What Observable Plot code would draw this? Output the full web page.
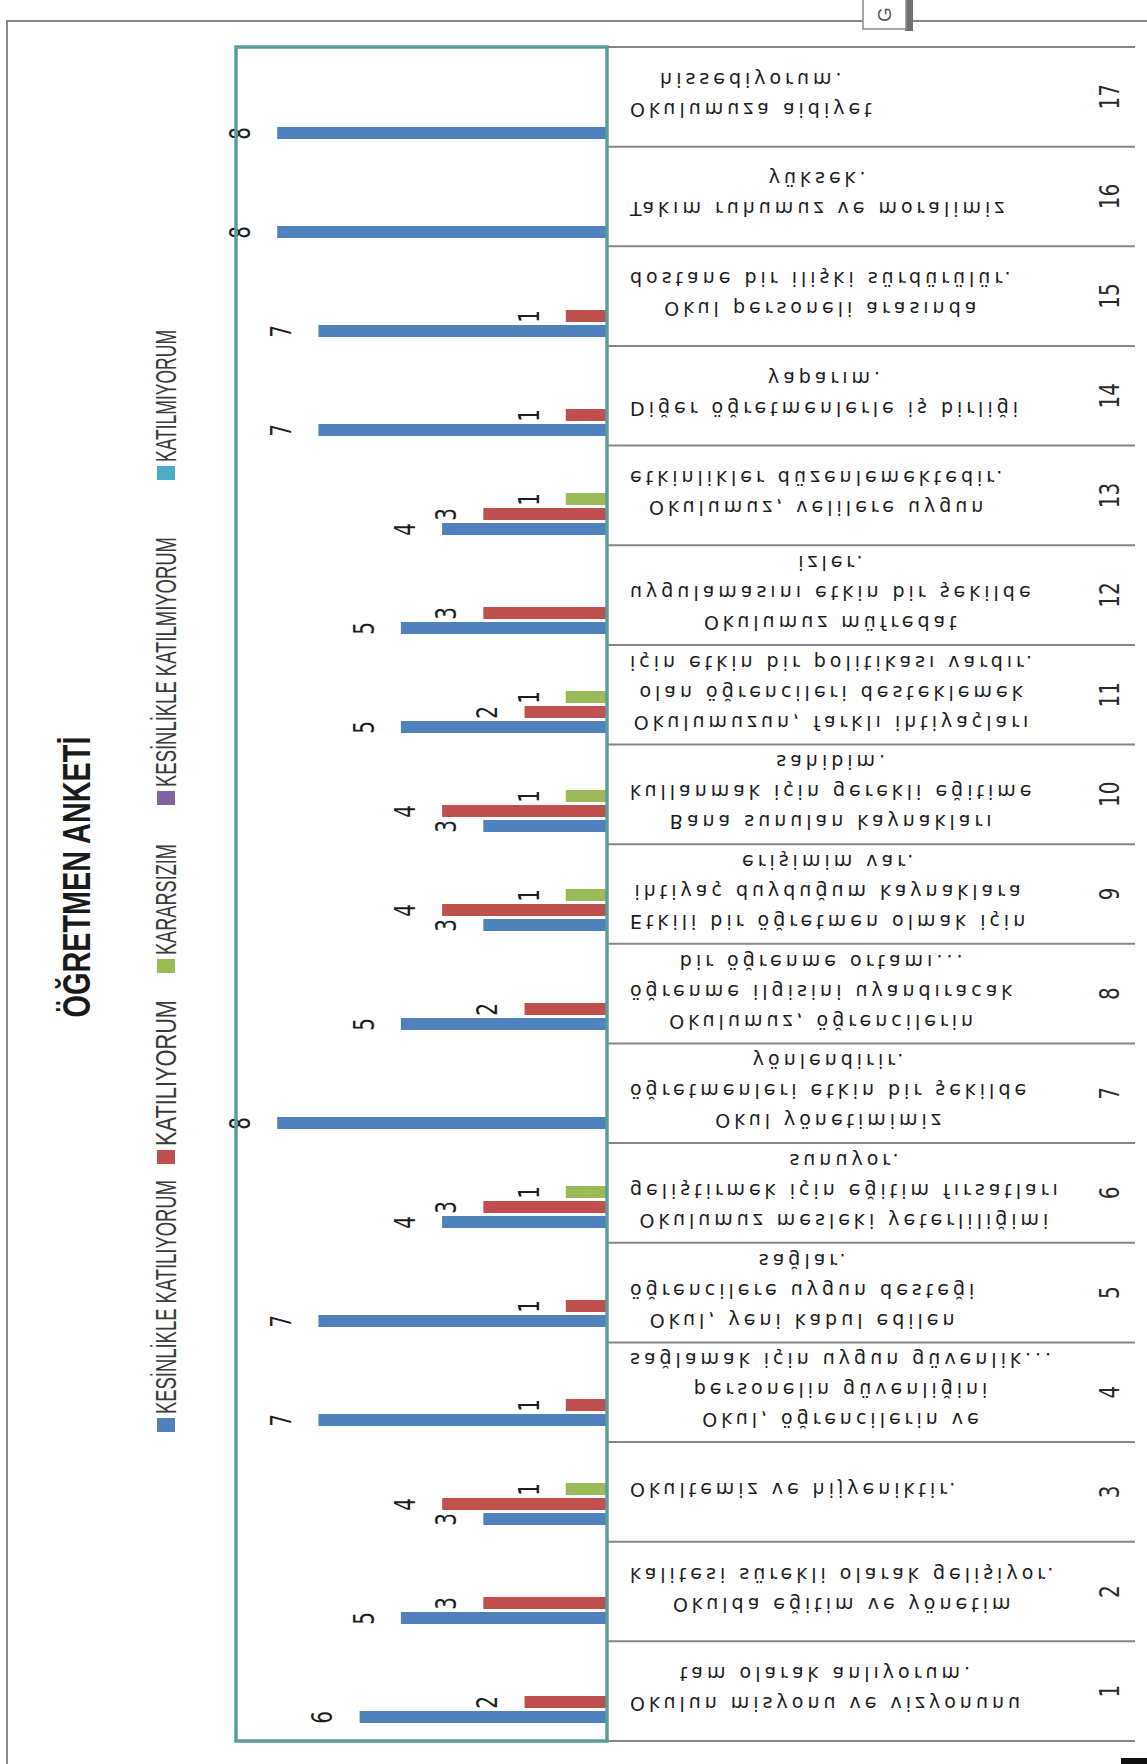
<!DOCTYPE html>
<html>
<head>
<meta charset="utf-8">
<script src="https://cdn.jsdelivr.net/npm/d3@7"></script>
<script src="https://cdn.jsdelivr.net/npm/@observablehq/plot@0.6"></script>
<style>
  body { margin: 0; background: #fff; }
  #chart { position: relative; width: 1147px; height: 1764px; overflow: hidden; background: #fff; }
</style>
</head>
<body>
<div id="chart"></div>
<script>
// Survey questions (item numbers) and answer categories
const questionNumbers = [1, 2, 3, 4, 5, 6, 7, 8, 9, 10, 11, 12, 13, 14, 15, 16, 17];
const seriesNames = ["KESİNLİKLE KATILIYORUM", "KATILIYORUM", "KARARSIZIM", "KESİNLİKLE KATILMIYORUM", "KATILMIYORUM"];
const seriesColors = ["#4F81BD", "#C0504D", "#9BBB59", "#8064A2", "#4BACC6"];

// Number of teachers per answer, item 1 … 17
const kesinlikleKatiliyorum = [6, 5, 3, 7, 7, 4, 8, 5, 3, 3, 5, 5, 4, 7, 7, 8, 8];
const katiliyorum           = [2, 3, 4, 1, 1, 3, 0, 2, 4, 4, 2, 3, 3, 1, 1, 0, 0];
const kararsizim            = [0, 0, 1, 0, 0, 1, 0, 0, 1, 1, 1, 0, 1, 0, 0, 0, 0];
const kesinlikleKatilmiyorum= [0, 0, 0, 0, 0, 0, 0, 0, 0, 0, 0, 0, 0, 0, 0, 0, 0];
const katilmiyorum          = [0, 0, 0, 0, 0, 0, 0, 0, 0, 0, 0, 0, 0, 0, 0, 0, 0];

// Item wording, one entry per line of the label cell
const questionLines = [
  ["Okulun misyonu ve vizyonunu", "tam olarak anlıyorum."],
  ["Okulda eğitim ve yönetim", "kalitesi sürekli olarak gelişiyor."],
  ["Okultemiz ve hijyeniktir."],
  ["Okul, öğrencilerin ve", "personelin güvenliğini", "sağlamak için uygun güvenlik..."],
  ["Okul, yeni kabul edilen", "öğrencilere uygun desteği", "sağlar."],
  ["Okulumuz mesleki yeterliliğimi", "geliştirmek için eğitim fırsatları", "sunuyor."],
  ["Okul yönetimimiz", "öğretmenleri etkin bir şekilde", "yönlendirir."],
  ["Okulumuz, öğrencilerin", "öğrenme ilgisini uyandıracak", "bir öğrenme ortamı..."],
  ["Etkili bir öğretmen olmak için", "ihtiyaç duyduğum kaynaklara", "erişimim var."],
  ["Bana sunulan kaynakları", "kullanmak için gerekli eğitime", "sahibim."],
  ["Okulumuzun, farklı ihtiyaçları", "olan öğrencileri desteklemek", "için etkin bir politikası vardır."],
  ["Okulumuz müfredat", "uygulamasını etkin bir şekilde", "izler."],
  ["Okulumuz, velilere uygun", "etkinlikler düzenlemektedir."],
  ["Diğer öğretmenlerle iş birliği", "yaparım."],
  ["Okul personeli arasında", "dostane bir ilişki sürdürülür."],
  ["Takım ruhumuz ve moralimiz", "yüksek."],
  ["Okulumuza aidiyet", "hissediyorum."]
];

const chartTitle = "ÖĞRETMEN ANKETİ";

// Long table for Plot: one row per non-empty bar
const seriesValues = [kesinlikleKatiliyorum, katiliyorum, kararsizim, kesinlikleKatilmiyorum, katilmiyorum];
const rows = [];
questionNumbers.forEach((q, i) => {
  seriesValues.forEach((vals, s) => {
    if (vals[i] > 0) rows.push({q, series: seriesNames[s], value: vals[i]});
  });
});

const W = 1147, H = 1764;

const plot = Plot.plot({
  width: W,
  height: H,
  marginTop: 47,
  marginBottom: 23,
  marginLeft: 236,
  marginRight: 540,
  style: {background: "transparent", overflow: "visible"},
  facet: {data: rows, y: "q"},
  fy: {domain: [...questionNumbers].reverse(), padding: 0, axis: null},
  y: {domain: [...seriesNames].reverse(), paddingInner: 0.22, paddingOuter: 0.72, axis: null},
  x: {domain: [0, 9], reverse: true, axis: null},
  color: {domain: seriesNames, range: seriesColors},
  marks: [
    Plot.barX(rows, {x: "value", y: "series", fill: "series"}),
    Plot.text(rows, {
      x: "value", y: "series", text: d => String(d.value),
      dx: -37, rotate: -90, fontSize: 20, fontFamily: "DejaVu Sans", fill: "#1e1e1e"
    })
  ]
});

document.getElementById("chart").append(plot);
const svg = d3.select(plot);

// Stretch the rotated value labels across the bar direction
svg.selectAll('g[aria-label="text"] text').each(function () {
  const t = this.getAttribute("transform");
  if (t) this.setAttribute("transform", t + " scale(1,1.45)");
});

// Scales shared with the decorations
const fyDesc = plot.scale("fy");
const band = d3.scaleBand(fyDesc.domain, fyDesc.range)
  .paddingInner(fyDesc.paddingInner || 0)
  .paddingOuter(fyDesc.paddingOuter || 0)
  .align(fyDesc.align ?? 0.5);
const xDesc = plot.scale("x");
const xLeft = d3.min(xDesc.range), xBase = d3.max(xDesc.range);
const yTop = d3.min(fyDesc.range), yBottom = d3.max(fyDesc.range);

const deco = svg.append("g");

// Outer page border (open to the right and bottom)
deco.append("path")
  .attr("d", `M7,${H} V21 H${W}`)
  .attr("fill", "none").attr("stroke", "#8a8a8a").attr("stroke-width", 2);

// Small tab at the top edge
deco.append("rect").attr("x", 905).attr("y", 0).attr("width", 8).attr("height", 31).attr("fill", "#6f6f6f");
deco.append("rect").attr("x", 863).attr("y", -2).attr("width", 43).attr("height", 31)
  .attr("fill", "#fff").attr("stroke", "#8a8a8a").attr("stroke-width", 1.5);
deco.append("text")
  .attr("transform", "translate(884,22) rotate(-90)")
  .attr("font-family", "Liberation Sans, Arial, sans-serif").attr("font-size", 19)
  .attr("text-anchor", "start")
  .attr("dominant-baseline", "central").attr("fill", "#555")
  .text("G");

// Table of item wording: horizontal rules between rows
const boundaries = questionNumbers.map(q => band(q)).concat([yBottom]);
deco.selectAll("line.sep").data(boundaries).join("line")
  .attr("x1", xBase).attr("x2", 1135)
  .attr("y1", d => d).attr("y2", d => d)
  .attr("stroke", "#868686").attr("stroke-width", 2);

// Item wording (mirrored lines), centred in a block that starts just right of the axis
const textLeft = xBase + 23;
questionLines.forEach((lines, i) => {
  const q = questionNumbers[i];
  const c = band(q) + band.bandwidth() / 2;
  const g = deco.append("g");
  const nodes = lines.map(str => g.append("text")
    .attr("font-family", "DejaVu Sans, sans-serif")
    .attr("font-size", 19)
    .attr("letter-spacing", 4)
    .attr("fill", "#1c1c1c")
    .attr("text-anchor", "middle")
    .attr("dominant-baseline", "central")
    .text(str));
  const maxW = d3.max(nodes, n => n.node().getComputedTextLength());
  const n = lines.length;
  nodes.forEach((node, k) => {
    const y = c + ((n - 1) / 2 - k) * 30 - 2;
    node.attr("transform", `translate(${textLeft + maxW / 2},${y}) scale(1,-1)`);
  });
  // Item number, rotated like the rest of the chart
  deco.append("text")
    .attr("transform", `translate(1110,${c}) rotate(-90) scale(1,1.35)`)
    .attr("font-family", "DejaVu Sans, sans-serif").attr("font-size", 20)
    .attr("text-anchor", "middle").attr("dominant-baseline", "central")
    .attr("fill", "#2a2a2a")
    .text(String(q));
});

// Plot-area frame and value axis
deco.append("rect")
  .attr("x", xLeft).attr("y", yTop)
  .attr("width", xBase - xLeft).attr("height", yBottom - yTop)
  .attr("fill", "none").attr("stroke", "#5a9d9c").attr("stroke-width", 3.5);

// Title, rotated
deco.append("text")
  .attr("transform", `translate(77,877) rotate(-90)`)
  .attr("font-family", "Liberation Sans, Arial, sans-serif").attr("font-weight", "bold")
  .attr("font-size", 38)
  .attr("text-anchor", "middle").attr("dominant-baseline", "central")
  .attr("textLength", 281).attr("lengthAdjust", "spacingAndGlyphs")
  .attr("fill", "#1a1a1a")
  .text(chartTitle);

// Legend, rotated, reading upward from the bottom
const legendY = [1425, 1157, 966, 798, 473];
const legendLen = [234, 146, 111, 250, 132];
seriesNames.forEach((name, i) => {
  deco.append("rect")
    .attr("x", 157).attr("y", legendY[i] - 7).attr("width", 18).attr("height", 14)
    .attr("fill", seriesColors[i]);
  deco.append("text")
    .attr("transform", `translate(166,${legendY[i] - 11}) rotate(-90)`)
    .attr("font-family", "Liberation Sans, Arial, sans-serif").attr("font-size", 29)
    .attr("text-anchor", "start")
    .attr("dominant-baseline", "central")
    .attr("textLength", legendLen[i]).attr("lengthAdjust", "spacingAndGlyphs")
    .attr("fill", "#3a3a3a")
    .text(name);
});

// Corner mark at the bottom right
deco.append("rect").attr("x", 1121).attr("y", 1758).attr("width", 26).attr("height", 6).attr("fill", "#111");
</script>
</body>
</html>
